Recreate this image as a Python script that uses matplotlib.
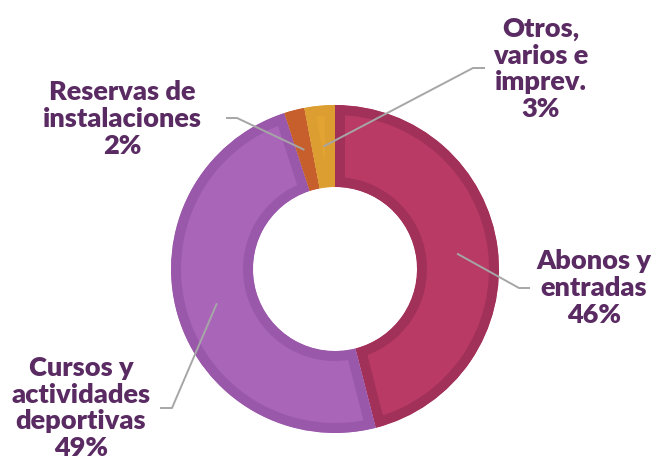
import matplotlib
matplotlib.use("Agg")
import matplotlib.pyplot as plt
import numpy as np

categories = ["Abonos y\nentradas", "Cursos y\nactividades\ndeportivas",
              "Reservas de\ninstalaciones", "Otros,\nvarios e\nimprev."]
values = [46, 49, 2, 3]
face_colors = ["#B93A65", "#A966B9", "#CB632F", "#E2A333"]
edge_colors = ["#A2315A", "#9A58AA", "#C65F2C", "#DC9E30"]
# label block centres and leader elbow points (layout, in pixels from top-left)
label_pos = [(594, 288), (81, 408), (122, 119), (541, 69)]
elbows = [((519, 288), (530, 288)), ((172, 408), (160, 408)),
          ((237, 118), (226, 118)), ((473, 68), (485, 68))]

W, H = 656, 466
fig = plt.figure(figsize=(W / 100, H / 100), dpi=100)
ax = fig.add_axes([0, 0, 1, 1])
cx, cy, R = 335, H - 269, 164
width_frac = 0.5

wedges, _ = ax.pie(values, colors=face_colors, startangle=90, counterclock=False,
                   center=(cx, cy), radius=R, frame=True,
                   wedgeprops=dict(width=R * width_frac))
border_px = 10
for w, ec in zip(wedges, edge_colors):
    w.set_edgecolor(ec)
    w.set_linewidth(2 * border_px * 72 / 100)
    w.set_clip_on(True)
    w.set_clip_path(w)

ax.set_xlim(0, W)
ax.set_ylim(0, H)
ax.set_aspect("equal")
ax.axis("off")

text_color = "#5A2B62"
total = sum(values)
r_anchor = R * (1 - width_frac / 2)
for w, cat, v, (tx, ty), (e1, e2) in zip(wedges, categories, values, label_pos, elbows):
    mid = np.deg2rad((w.theta1 + w.theta2) / 2)
    px = cx + r_anchor * np.cos(mid)
    py = cy + r_anchor * np.sin(mid)
    ax.plot([px, e1[0], e2[0]], [py, H - e1[1], H - e2[1]], color="#A6A6A6", lw=1.4,
            solid_capstyle="butt", zorder=5)
    ax.text(tx, H - ty, f"{cat}\n{round(100 * v / total)}%", ha="center", va="center",
            multialignment="center", fontsize=19.5, fontweight="heavy",
            family="Lato", color=text_color, linespacing=1.13)

fig.savefig("out.png", dpi=100)
